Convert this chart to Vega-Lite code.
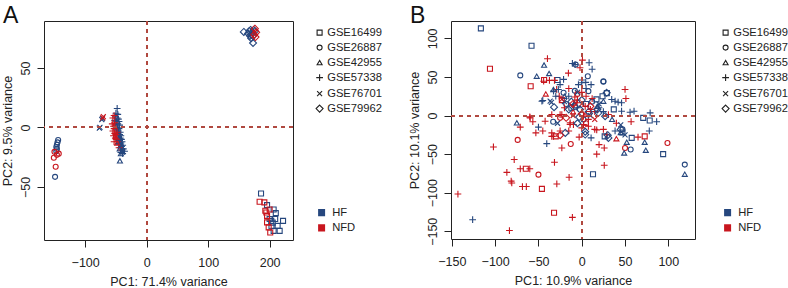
{
 "$schema": "https://vega.github.io/schema/vega-lite/v6.json",
 "padding": {"left": 0, "top": 4, "right": 40, "bottom": 0},
 "background": "white",
 "bounds": "flush",
 "spacing": 158,
 "config": {
  "font": "Liberation Sans",
  "view": {"stroke": "#222", "strokeWidth": 1},
  "axis": {"domain": false, "grid": false, "tickColor": "#222", "tickSize": 7, "labelFontSize": 12.5, "labelColor": "#222", "titleFontSize": 12.5, "titleFontWeight": "normal", "titleColor": "#222", "labelFlush": false, "labelOverlap": false},
  "axisX": {"labelPadding": 9, "titlePadding": 7},
  "axisY": {"labelAngle": -90, "labelAlign": "center", "labelBaseline": "bottom", "labelPadding": 5, "titlePadding": 5},
  "legend": {"labelFontSize": 11.2, "labelColor": "#222", "padding": 0},
  "title": {"fontSize": 23, "fontWeight": "normal", "color": "#111", "anchor": "start", "frame": "bounds", "offset": -8, "dx": 2}
 },
 "datasets": {
  "a": [
   {"x":-144,"y":-10.5,"s":"GSE26887","g":"HF"},{"x":-145,"y":-12.5,"s":"GSE26887","g":"HF"},{"x":-146,"y":-14.5,"s":"GSE26887","g":"HF"},{"x":-147,"y":-16.5,"s":"GSE26887","g":"HF"},{"x":-146,"y":-18,"s":"GSE26887","g":"HF"},{"x":-147,"y":-20,"s":"GSE26887","g":"HF"},{"x":-149,"y":-41.5,"s":"GSE26887","g":"HF"},
   {"x":-150,"y":-20.5,"s":"GSE26887","g":"NFD"},{"x":-143,"y":-22,"s":"GSE26887","g":"NFD"},{"x":-151,"y":-25.5,"s":"GSE26887","g":"NFD"},{"x":-148,"y":-33,"s":"GSE26887","g":"NFD"},{"x":-146,"y":-23,"s":"GSE26887","g":"NFD"},
   {"x":-73,"y":6.5,"s":"GSE76701","g":"HF"},{"x":-72,"y":7.5,"s":"GSE76701","g":"HF"},{"x":-77,"y":-0.5,"s":"GSE76701","g":"HF"},{"x":-76,"y":0,"s":"GSE76701","g":"HF"},
   {"x":-70.5,"y":9.2,"s":"GSE76701","g":"NFD"},{"x":-71.5,"y":8,"s":"GSE76701","g":"NFD"},
   {"x":-48,"y":16,"s":"GSE57338","g":"HF"},{"x":-50,"y":12,"s":"GSE57338","g":"HF"},{"x":-47,"y":11,"s":"GSE57338","g":"HF"},{"x":-51,"y":9,"s":"GSE57338","g":"HF"},{"x":-48,"y":8,"s":"GSE57338","g":"HF"},{"x":-46,"y":7,"s":"GSE57338","g":"HF"},{"x":-52,"y":6,"s":"GSE57338","g":"HF"},{"x":-49,"y":5,"s":"GSE57338","g":"HF"},{"x":-45,"y":5,"s":"GSE57338","g":"HF"},{"x":-50,"y":3,"s":"GSE57338","g":"HF"},{"x":-47,"y":3,"s":"GSE57338","g":"HF"},{"x":-44,"y":2,"s":"GSE57338","g":"HF"},{"x":-51,"y":1,"s":"GSE57338","g":"HF"},{"x":-48,"y":0,"s":"GSE57338","g":"HF"},{"x":-45,"y":-1,"s":"GSE57338","g":"HF"},{"x":-49,"y":-2,"s":"GSE57338","g":"HF"},{"x":-46,"y":-3,"s":"GSE57338","g":"HF"},{"x":-43,"y":-4,"s":"GSE57338","g":"HF"},{"x":-47,"y":-5,"s":"GSE57338","g":"HF"},{"x":-44,"y":-6,"s":"GSE57338","g":"HF"},{"x":-42,"y":-7,"s":"GSE57338","g":"HF"},{"x":-46,"y":-8,"s":"GSE57338","g":"HF"},{"x":-43,"y":-9,"s":"GSE57338","g":"HF"},{"x":-41,"y":-10,"s":"GSE57338","g":"HF"},{"x":-44,"y":-11,"s":"GSE57338","g":"HF"},{"x":-40,"y":-12,"s":"GSE57338","g":"HF"},{"x":-42,"y":-13,"s":"GSE57338","g":"HF"},{"x":-45,"y":-14,"s":"GSE57338","g":"HF"},{"x":-39,"y":-15,"s":"GSE57338","g":"HF"},{"x":-41,"y":-16,"s":"GSE57338","g":"HF"},{"x":-43,"y":-17,"s":"GSE57338","g":"HF"},{"x":-38,"y":-18,"s":"GSE57338","g":"HF"},{"x":-40,"y":-19,"s":"GSE57338","g":"HF"},{"x":-36,"y":-20,"s":"GSE57338","g":"HF"},{"x":-42,"y":-21,"s":"GSE57338","g":"HF"},{"x":-39,"y":-22,"s":"GSE57338","g":"HF"},
   {"x":-53,"y":10,"s":"GSE57338","g":"NFD"},{"x":-55,"y":8,"s":"GSE57338","g":"NFD"},{"x":-52,"y":4,"s":"GSE57338","g":"NFD"},{"x":-56,"y":3,"s":"GSE57338","g":"NFD"},{"x":-54,"y":1,"s":"GSE57338","g":"NFD"},{"x":-53,"y":-1,"s":"GSE57338","g":"NFD"},{"x":-55,"y":-3,"s":"GSE57338","g":"NFD"},{"x":-52,"y":-5,"s":"GSE57338","g":"NFD"},{"x":-54,"y":-7,"s":"GSE57338","g":"NFD"},{"x":-50,"y":-6,"s":"GSE57338","g":"NFD"},{"x":-51,"y":-9,"s":"GSE57338","g":"NFD"},{"x":-48,"y":-4,"s":"GSE57338","g":"NFD"},{"x":-53,"y":-12,"s":"GSE57338","g":"NFD"},{"x":-49,"y":-10,"s":"GSE57338","g":"NFD"},{"x":-47,"y":-12,"s":"GSE57338","g":"NFD"},{"x":-45,"y":-17,"s":"GSE57338","g":"NFD"},
   {"x":-43.5,"y":-28,"s":"GSE42955","g":"HF"},{"x":-42,"y":-22,"s":"GSE42955","g":"HF"},{"x":-40,"y":-20,"s":"GSE42955","g":"HF"},{"x":-44,"y":-18,"s":"GSE42955","g":"HF"},{"x":-41,"y":-14,"s":"GSE42955","g":"HF"},{"x":-46,"y":-12,"s":"GSE42955","g":"HF"},{"x":-45,"y":-9,"s":"GSE42955","g":"HF"},
   {"x":-50,"y":-8,"s":"GSE42955","g":"NFD"},{"x":-48,"y":-13,"s":"GSE42955","g":"NFD"},
   {"x":158,"y":80.3,"s":"GSE79962","g":"HF"},{"x":165,"y":79,"s":"GSE79962","g":"HF"},{"x":167,"y":81,"s":"GSE79962","g":"HF"},{"x":169,"y":82,"s":"GSE79962","g":"HF"},{"x":170,"y":78,"s":"GSE79962","g":"HF"},{"x":172,"y":80,"s":"GSE79962","g":"HF"},{"x":174,"y":82,"s":"GSE79962","g":"HF"},{"x":176,"y":81,"s":"GSE79962","g":"HF"},{"x":173,"y":77,"s":"GSE79962","g":"HF"},{"x":168,"y":77,"s":"GSE79962","g":"HF"},{"x":173,"y":71,"s":"GSE79962","g":"HF"},{"x":170,"y":75,"s":"GSE79962","g":"HF"},
   {"x":175,"y":78,"s":"GSE79962","g":"NFD"},{"x":178,"y":80,"s":"GSE79962","g":"NFD"},{"x":177,"y":76,"s":"GSE79962","g":"NFD"},{"x":176,"y":83,"s":"GSE79962","g":"NFD"},
   {"x":186,"y":-55.5,"s":"GSE16499","g":"HF"},{"x":195.8,"y":-65.3,"s":"GSE16499","g":"HF"},{"x":206.5,"y":-69,"s":"GSE16499","g":"HF"},{"x":200,"y":-77,"s":"GSE16499","g":"HF"},{"x":202.6,"y":-78.5,"s":"GSE16499","g":"HF"},{"x":205,"y":-80,"s":"GSE16499","g":"HF"},{"x":209,"y":-77,"s":"GSE16499","g":"HF"},{"x":221.8,"y":-78.5,"s":"GSE16499","g":"HF"},{"x":213,"y":-82.7,"s":"GSE16499","g":"HF"},{"x":206.5,"y":-86.9,"s":"GSE16499","g":"HF"},{"x":216.3,"y":-86.9,"s":"GSE16499","g":"HF"},{"x":203,"y":-83,"s":"GSE16499","g":"HF"},{"x":210,"y":-72,"s":"GSE16499","g":"HF"},
   {"x":183.7,"y":-62.5,"s":"GSE16499","g":"NFD"},{"x":191.4,"y":-63,"s":"GSE16499","g":"NFD"},{"x":200,"y":-69,"s":"GSE16499","g":"NFD"},{"x":194.6,"y":-71.5,"s":"GSE16499","g":"NFD"},{"x":195.8,"y":-74.3,"s":"GSE16499","g":"NFD"},{"x":198.4,"y":-84,"s":"GSE16499","g":"NFD"},{"x":201,"y":-88.3,"s":"GSE16499","g":"NFD"},{"x":195.8,"y":-79.8,"s":"GSE16499","g":"NFD"},{"x":193,"y":-70,"s":"GSE16499","g":"NFD"}
  ],
  "b": [
   {"x":-116.5,"y":113,"s":"GSE16499","g":"HF"},{"x":-58,"y":90.5,"s":"GSE16499","g":"HF"},{"x":-28,"y":46,"s":"GSE16499","g":"HF"},{"x":29,"y":29,"s":"GSE16499","g":"HF"},{"x":24,"y":25,"s":"GSE16499","g":"HF"},{"x":17,"y":21,"s":"GSE16499","g":"HF"},{"x":37,"y":8,"s":"GSE16499","g":"HF"},{"x":78.5,"y":-6.5,"s":"GSE16499","g":"HF"},{"x":71,"y":-3,"s":"GSE16499","g":"HF"},{"x":57.7,"y":-29,"s":"GSE16499","g":"HF"},{"x":94,"y":-50,"s":"GSE16499","g":"HF"},{"x":13,"y":-76,"s":"GSE16499","g":"HF"},{"x":26.5,"y":-27,"s":"GSE16499","g":"HF"},{"x":-12,"y":10,"s":"GSE16499","g":"HF"},{"x":47,"y":-22,"s":"GSE16499","g":"HF"},{"x":5,"y":15,"s":"GSE16499","g":"HF"},
   {"x":-106,"y":60.6,"s":"GSE16499","g":"NFD"},{"x":-59,"y":38,"s":"GSE16499","g":"NFD"},{"x":-43.5,"y":46,"s":"GSE16499","g":"NFD"},{"x":72.7,"y":-27,"s":"GSE16499","g":"NFD"},{"x":-64.6,"y":-69,"s":"GSE16499","g":"NFD"},{"x":-46,"y":-95,"s":"GSE16499","g":"NFD"},{"x":-32,"y":-126,"s":"GSE16499","g":"NFD"},{"x":-23,"y":20,"s":"GSE16499","g":"NFD"},{"x":8,"y":2,"s":"GSE16499","g":"NFD"},{"x":-30,"y":-27,"s":"GSE16499","g":"NFD"},
   {"x":-71,"y":52,"s":"GSE26887","g":"HF"},{"x":-7,"y":66,"s":"GSE26887","g":"HF"},{"x":7,"y":51,"s":"GSE26887","g":"HF"},{"x":25,"y":43.7,"s":"GSE26887","g":"HF"},{"x":56.5,"y":-44,"s":"GSE26887","g":"HF"},{"x":119,"y":-63.6,"s":"GSE26887","g":"HF"},{"x":-33,"y":-8,"s":"GSE26887","g":"HF"},{"x":-18,"y":15,"s":"GSE26887","g":"HF"},{"x":12,"y":18,"s":"GSE26887","g":"HF"},{"x":47,"y":-18,"s":"GSE26887","g":"HF"},{"x":2,"y":-5,"s":"GSE26887","g":"HF"},{"x":-8,"y":32,"s":"GSE26887","g":"HF"},{"x":-21,"y":29.5,"s":"GSE26887","g":"HF"},{"x":7.7,"y":31.6,"s":"GSE26887","g":"HF"},{"x":25,"y":44.5,"s":"GSE26887","g":"HF"},
   {"x":-74,"y":-31.6,"s":"GSE26887","g":"NFD"},{"x":-12.7,"y":-36.8,"s":"GSE26887","g":"NFD"},{"x":-50,"y":-76.6,"s":"GSE26887","g":"NFD"},{"x":50,"y":-42,"s":"GSE26887","g":"NFD"},{"x":99,"y":-35.5,"s":"GSE26887","g":"NFD"},{"x":-25,"y":-3,"s":"GSE26887","g":"NFD"},{"x":-5,"y":28,"s":"GSE26887","g":"NFD"},{"x":5,"y":-10,"s":"GSE26887","g":"NFD"},
   {"x":-43.5,"y":65.4,"s":"GSE42955","g":"HF"},{"x":-52,"y":51,"s":"GSE42955","g":"HF"},{"x":-37.7,"y":54.5,"s":"GSE42955","g":"HF"},{"x":-32.7,"y":33.8,"s":"GSE42955","g":"HF"},{"x":-75,"y":-9.5,"s":"GSE42955","g":"HF"},{"x":52,"y":-34.6,"s":"GSE42955","g":"HF"},{"x":49,"y":-48.5,"s":"GSE42955","g":"HF"},{"x":72.7,"y":-34.6,"s":"GSE42955","g":"HF"},{"x":74,"y":-45,"s":"GSE42955","g":"HF"},{"x":119,"y":-76,"s":"GSE42955","g":"HF"},{"x":-20,"y":25,"s":"GSE42955","g":"HF"},{"x":18,"y":12,"s":"GSE42955","g":"HF"},{"x":35,"y":-5,"s":"GSE42955","g":"HF"},{"x":45,"y":-22,"s":"GSE42955","g":"HF"},{"x":25,"y":18.6,"s":"GSE42955","g":"HF"},
   {"x":-41.5,"y":28,"s":"GSE42955","g":"NFD"},{"x":40,"y":-30,"s":"GSE42955","g":"NFD"},{"x":-10,"y":5,"s":"GSE42955","g":"NFD"},
   {"x":-39.6,"y":73.6,"s":"GSE57338","g":"NFD"},{"x":0.8,"y":71.8,"s":"GSE57338","g":"NFD"},{"x":-2,"y":62,"s":"GSE57338","g":"NFD"},{"x":-37.3,"y":45.5,"s":"GSE57338","g":"NFD"},{"x":-31.5,"y":45.5,"s":"GSE57338","g":"NFD"},{"x":-15.4,"y":55,"s":"GSE57338","g":"NFD"},{"x":-29,"y":33.8,"s":"GSE57338","g":"NFD"},{"x":50,"y":33.8,"s":"GSE57338","g":"NFD"},{"x":51,"y":22,"s":"GSE57338","g":"NFD"},{"x":30.8,"y":1.3,"s":"GSE57338","g":"NFD"},{"x":-59.6,"y":-3,"s":"GSE57338","g":"NFD"},{"x":-71,"y":-15,"s":"GSE57338","g":"NFD"},{"x":-53,"y":-22.5,"s":"GSE57338","g":"NFD"},{"x":-56.5,"y":-8,"s":"GSE57338","g":"NFD"},{"x":-42.3,"y":-7.4,"s":"GSE57338","g":"NFD"},{"x":-102,"y":-40.7,"s":"GSE57338","g":"NFD"},{"x":-78,"y":-57,"s":"GSE57338","g":"NFD"},{"x":-31.5,"y":-60.6,"s":"GSE57338","g":"NFD"},{"x":-71,"y":-69,"s":"GSE57338","g":"NFD"},{"x":-60,"y":-69,"s":"GSE57338","g":"NFD"},{"x":-86.5,"y":-73.6,"s":"GSE57338","g":"NFD"},{"x":-81.5,"y":-85,"s":"GSE57338","g":"NFD"},{"x":-80.8,"y":-87.4,"s":"GSE57338","g":"NFD"},{"x":-68.5,"y":-92,"s":"GSE57338","g":"NFD"},{"x":-64,"y":-92,"s":"GSE57338","g":"NFD"},{"x":-28.8,"y":-88.7,"s":"GSE57338","g":"NFD"},{"x":-14.6,"y":-80,"s":"GSE57338","g":"NFD"},{"x":-143,"y":-101.7,"s":"GSE57338","g":"NFD"},{"x":-83.5,"y":-149,"s":"GSE57338","g":"NFD"},{"x":-10.8,"y":-132,"s":"GSE57338","g":"NFD"},{"x":-23,"y":-42,"s":"GSE57338","g":"NFD"},{"x":-34.6,"y":-27,"s":"GSE57338","g":"NFD"},{"x":-3,"y":-28,"s":"GSE57338","g":"NFD"},{"x":17.3,"y":-50,"s":"GSE57338","g":"NFD"},{"x":20,"y":-37.7,"s":"GSE57338","g":"NFD"},{"x":26,"y":-42,"s":"GSE57338","g":"NFD"},{"x":26,"y":-64.5,"s":"GSE57338","g":"NFD"},{"x":25,"y":-18,"s":"GSE57338","g":"NFD"},{"x":15,"y":-18,"s":"GSE57338","g":"NFD"},{"x":65,"y":-28,"s":"GSE57338","g":"NFD"},{"x":57,"y":-8,"s":"GSE57338","g":"NFD"},{"x":-13.5,"y":-11.7,"s":"GSE57338","g":"NFD"},{"x":-9.6,"y":-11.7,"s":"GSE57338","g":"NFD"},{"x":2,"y":-11.7,"s":"GSE57338","g":"NFD"},{"x":-23,"y":1.3,"s":"GSE57338","g":"NFD"},{"x":-60,"y":-1.7,"s":"GSE57338","g":"NFD"},{"x":-20,"y":10,"s":"GSE57338","g":"NFD"},{"x":-5,"y":20,"s":"GSE57338","g":"NFD"},{"x":5,"y":25,"s":"GSE57338","g":"NFD"},{"x":10,"y":8,"s":"GSE57338","g":"NFD"},{"x":-15,"y":35,"s":"GSE57338","g":"NFD"},{"x":15,"y":5,"s":"GSE57338","g":"NFD"},{"x":40,"y":-10,"s":"GSE57338","g":"NFD"},{"x":-25,"y":-20,"s":"GSE57338","g":"NFD"},{"x":-45,"y":-20,"s":"GSE57338","g":"NFD"},{"x":-15,"y":-20,"s":"GSE57338","g":"NFD"},
   {"x":-44,"y":44.5,"s":"GSE57338","g":"NFD"},{"x":-26,"y":25,"s":"GSE57338","g":"NFD"},{"x":-9.6,"y":14,"s":"GSE57338","g":"NFD"},{"x":-5.8,"y":16.5,"s":"GSE57338","g":"NFD"},{"x":4,"y":12,"s":"GSE57338","g":"NFD"},{"x":2,"y":-1,"s":"GSE57338","g":"NFD"},{"x":7.7,"y":-5,"s":"GSE57338","g":"NFD"},{"x":-34.6,"y":1.3,"s":"GSE57338","g":"NFD"},{"x":-25,"y":1.3,"s":"GSE57338","g":"NFD"},{"x":-13.4,"y":-9.5,"s":"GSE57338","g":"NFD"},{"x":0,"y":-16,"s":"GSE57338","g":"NFD"},{"x":7.7,"y":-13.9,"s":"GSE57338","g":"NFD"},{"x":17.3,"y":-18.6,"s":"GSE57338","g":"NFD"},{"x":28.8,"y":-25,"s":"GSE57338","g":"NFD"},{"x":-34.6,"y":-22.5,"s":"GSE57338","g":"NFD"},{"x":-32.6,"y":-26.9,"s":"GSE57338","g":"NFD"},{"x":-8,"y":24,"s":"GSE57338","g":"NFD"},{"x":0,"y":30,"s":"GSE57338","g":"NFD"},{"x":12,"y":22,"s":"GSE57338","g":"NFD"},
   {"x":-10.8,"y":67.5,"s":"GSE57338","g":"HF"},{"x":-7.7,"y":66,"s":"GSE57338","g":"HF"},{"x":8.5,"y":68.4,"s":"GSE57338","g":"HF"},{"x":12,"y":60,"s":"GSE57338","g":"HF"},{"x":-21,"y":46.8,"s":"GSE57338","g":"HF"},{"x":0,"y":46,"s":"GSE57338","g":"HF"},{"x":4.6,"y":43,"s":"GSE57338","g":"HF"},{"x":10.8,"y":40,"s":"GSE57338","g":"HF"},{"x":-45,"y":19.5,"s":"GSE57338","g":"HF"},{"x":-25,"y":40,"s":"GSE57338","g":"HF"},{"x":34.6,"y":20.8,"s":"GSE57338","g":"HF"},{"x":38.5,"y":18.6,"s":"GSE57338","g":"HF"},{"x":42,"y":17.3,"s":"GSE57338","g":"HF"},{"x":46,"y":16.5,"s":"GSE57338","g":"HF"},{"x":55.8,"y":4.3,"s":"GSE57338","g":"HF"},{"x":60.4,"y":5.6,"s":"GSE57338","g":"HF"},{"x":79,"y":3.5,"s":"GSE57338","g":"HF"},{"x":46,"y":5.6,"s":"GSE57338","g":"HF"},{"x":-40.4,"y":-36.4,"s":"GSE57338","g":"HF"},{"x":-126,"y":-135,"s":"GSE57338","g":"HF"},{"x":10.8,"y":-29,"s":"GSE57338","g":"HF"},{"x":78,"y":-20,"s":"GSE57338","g":"HF"},{"x":86.5,"y":-8,"s":"GSE57338","g":"HF"},{"x":38.5,"y":-20,"s":"GSE57338","g":"HF"},{"x":-5,"y":10,"s":"GSE57338","g":"HF"},{"x":20,"y":10,"s":"GSE57338","g":"HF"},{"x":-30,"y":25,"s":"GSE57338","g":"HF"},{"x":5,"y":35,"s":"GSE57338","g":"HF"},{"x":-15,"y":25,"s":"GSE57338","g":"HF"},{"x":25,"y":5,"s":"GSE57338","g":"HF"},
   {"x":-46,"y":18.6,"s":"GSE57338","g":"HF"},{"x":-32.6,"y":31.6,"s":"GSE57338","g":"HF"},{"x":-27,"y":33.8,"s":"GSE57338","g":"HF"},{"x":-3.8,"y":40,"s":"GSE57338","g":"HF"},{"x":0,"y":42.5,"s":"GSE57338","g":"HF"},{"x":-50,"y":-15,"s":"GSE57338","g":"HF"},
   {"x":-36.5,"y":18.6,"s":"GSE76701","g":"HF"},{"x":-20,"y":18,"s":"GSE76701","g":"HF"},{"x":-5,"y":30,"s":"GSE76701","g":"HF"},{"x":10,"y":0,"s":"GSE76701","g":"HF"},{"x":50,"y":-25,"s":"GSE76701","g":"HF"},{"x":45,"y":-12,"s":"GSE76701","g":"HF"},{"x":-28,"y":-10,"s":"GSE76701","g":"HF"},{"x":20,"y":15,"s":"GSE76701","g":"HF"},{"x":-35,"y":17,"s":"GSE76701","g":"HF"},
   {"x":-23,"y":20.8,"s":"GSE76701","g":"NFD"},{"x":0,"y":15,"s":"GSE76701","g":"NFD"},{"x":-10,"y":0,"s":"GSE76701","g":"NFD"},{"x":15,"y":-5,"s":"GSE76701","g":"NFD"},
   {"x":-32,"y":10.8,"s":"GSE79962","g":"HF"},{"x":4,"y":-21,"s":"GSE79962","g":"HF"},{"x":30,"y":-25.5,"s":"GSE79962","g":"HF"},{"x":-8,"y":12,"s":"GSE79962","g":"HF"},{"x":-15,"y":8,"s":"GSE79962","g":"HF"},{"x":-12,"y":18,"s":"GSE79962","g":"HF"},{"x":0,"y":20,"s":"GSE79962","g":"HF"},{"x":8,"y":5,"s":"GSE79962","g":"HF"},{"x":18,"y":8,"s":"GSE79962","g":"HF"},{"x":-3,"y":-2,"s":"GSE79962","g":"HF"},{"x":45,"y":-18,"s":"GSE79962","g":"HF"},{"x":-5,"y":-10,"s":"GSE79962","g":"HF"},{"x":28.8,"y":29.5,"s":"GSE79962","g":"HF"},{"x":-2,"y":7.8,"s":"GSE79962","g":"HF"},{"x":-19,"y":-22.5,"s":"GSE79962","g":"HF"},{"x":4,"y":-24.7,"s":"GSE79962","g":"HF"},{"x":19.3,"y":3.5,"s":"GSE79962","g":"HF"},{"x":27,"y":-0.9,"s":"GSE79962","g":"HF"},{"x":30.8,"y":-29,"s":"GSE79962","g":"HF"},
   {"x":-25,"y":-25.5,"s":"GSE79962","g":"NFD"},{"x":-10,"y":15,"s":"GSE79962","g":"NFD"},{"x":10,"y":12,"s":"GSE79962","g":"NFD"},{"x":0,"y":2,"s":"GSE79962","g":"NFD"},{"x":-18,"y":-3,"s":"GSE79962","g":"NFD"}
  ]
 },
 "hconcat": [
  {
   "width": 249, "height": 219,
   "title": {"text": "A"},
   "data": {"name": "a"},
   "layer": [
    {
     "mark": {"type": "point", "filled": false, "size": 25, "strokeWidth": 1.1, "opacity": 1},
     "encoding": {
      "x": {"field": "x", "type": "quantitative", "scale": {"domain": [-167, 238], "nice": false, "zero": false}, "axis": {"title": "PC1: 71.4% variance", "values": [-100, 0, 100, 200]}},
      "y": {"field": "y", "type": "quantitative", "scale": {"domain": [-94.6, 89.5], "nice": false, "zero": false}, "axis": {"title": "PC2: 9.5% variance", "values": [-50, 0, 50]}},
      "shape": {"field": "s", "type": "nominal", "scale": {"domain": ["GSE16499", "GSE26887", "GSE42955", "GSE57338", "GSE76701", "GSE79962"], "range": ["square", "circle", "triangle-up", "M-1.35,0H1.35M0,-1.35V1.35", "M-1,-1L1,1M-1,1L1,-1", "M0,-1.4L1.4,0L0,1.4L-1.4,0Z"]}, "legend": {"title": null, "orient": "none", "legendX": 270, "legendY": 6, "symbolStrokeColor": "#222", "symbolSize": 25, "symbolStrokeWidth": 1.1, "labelOffset": 2, "rowPadding": 3}},
      "color": {"field": "g", "type": "nominal", "scale": {"domain": ["HF", "NFD"], "range": ["#26477E", "#C8161E"]}, "legend": {"title": null, "orient": "none", "legendX": 272, "legendY": 186, "symbolType": "M-1,-0.75H1M-1,-0.25H1M-1,0.25H1M-1,0.75H1", "symbolSize": 49, "symbolStrokeWidth": 1.9, "labelOffset": 5, "rowPadding": 1.3}}
     }
    },
    {"mark": {"type": "rule", "color": "#B04A40", "strokeDash": [4, 4], "strokeWidth": 1.3}, "encoding": {"x": {"datum": 0}}},
    {"mark": {"type": "rule", "color": "#B04A40", "strokeDash": [4, 4], "strokeWidth": 1.3}, "encoding": {"y": {"datum": 0}}}
   ]
  },
  {
   "width": 244, "height": 218,
   "title": {"text": "B"},
   "data": {"name": "b"},
   "layer": [
    {
     "mark": {"type": "point", "filled": false, "size": 25, "strokeWidth": 1.1, "opacity": 1},
     "encoding": {
      "x": {"field": "x", "type": "quantitative", "scale": {"domain": [-151, 130.8], "nice": false, "zero": false}, "axis": {"title": "PC1: 10.9% variance", "values": [-150, -100, -50, 0, 50, 100]}},
      "y": {"field": "y", "type": "quantitative", "scale": {"domain": [-160, 122.5], "nice": false, "zero": false}, "axis": {"title": "PC2: 10.1% variance", "values": [-150, -100, -50, 0, 50, 100]}},
      "shape": {"field": "s", "type": "nominal", "scale": {"domain": ["GSE16499", "GSE26887", "GSE42955", "GSE57338", "GSE76701", "GSE79962"], "range": ["square", "circle", "triangle-up", "M-1.35,0H1.35M0,-1.35V1.35", "M-1,-1L1,1M-1,1L1,-1", "M0,-1.4L1.4,0L0,1.4L-1.4,0Z"]}, "legend": {"title": null, "orient": "none", "legendX": 269, "legendY": 6, "symbolStrokeColor": "#222", "symbolSize": 25, "symbolStrokeWidth": 1.1, "labelOffset": 2, "rowPadding": 3}},
      "color": {"field": "g", "type": "nominal", "scale": {"domain": ["HF", "NFD"], "range": ["#26477E", "#C8161E"]}, "legend": {"title": null, "orient": "none", "legendX": 271, "legendY": 186, "symbolType": "M-1,-0.75H1M-1,-0.25H1M-1,0.25H1M-1,0.75H1", "symbolSize": 49, "symbolStrokeWidth": 1.9, "labelOffset": 5, "rowPadding": 1.3}}
     }
    },
    {"mark": {"type": "rule", "color": "#B04A40", "strokeDash": [4, 4], "strokeWidth": 1.3}, "encoding": {"x": {"datum": 0}}},
    {"mark": {"type": "rule", "color": "#B04A40", "strokeDash": [4, 4], "strokeWidth": 1.3}, "encoding": {"y": {"datum": 0}}}
   ]
  }
 ],
 "resolve": {
  "scale": {"x": "independent", "y": "independent", "color": "independent", "shape": "independent"},
  "legend": {"color": "independent", "shape": "independent"}
 }
}
